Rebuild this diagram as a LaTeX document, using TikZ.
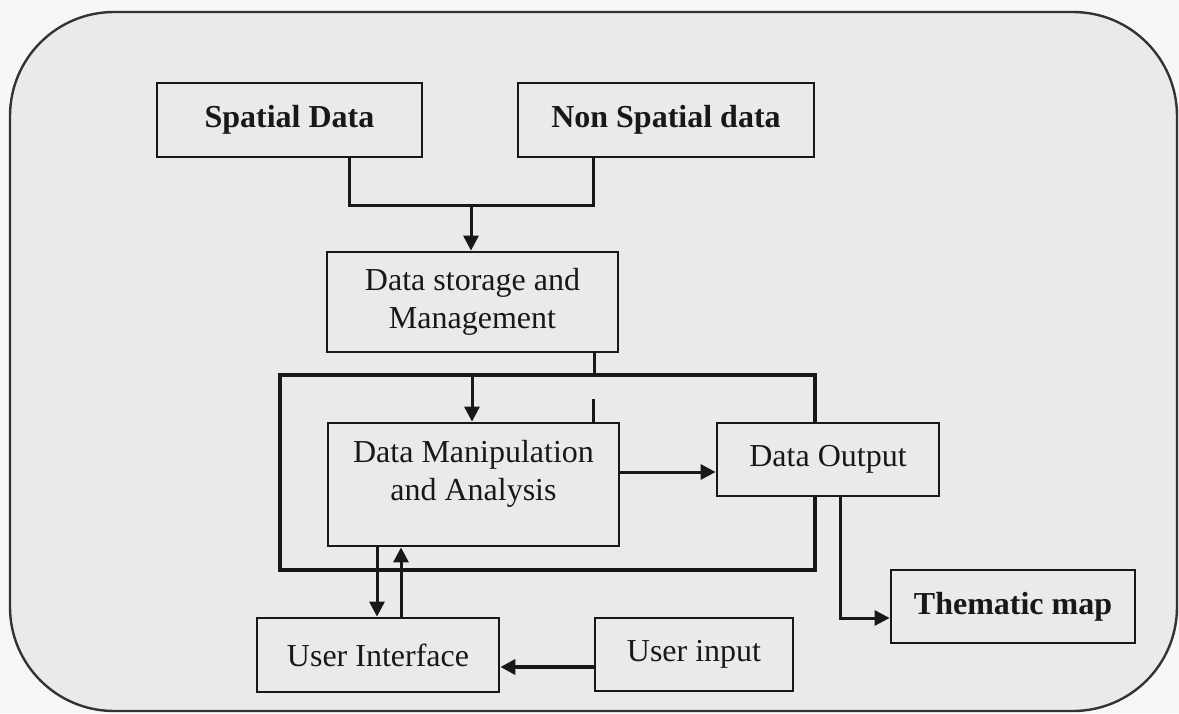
\documentclass[tikz,border=0pt]{standalone}
\usepackage{fontspec}
\setmainfont{Liberation Serif}
\usetikzlibrary{arrows.meta,calc}
\definecolor{paper}{HTML}{F7F7F7}
\definecolor{panel}{HTML}{EAEAEA}
\definecolor{ink}{HTML}{181818}
\definecolor{rim}{HTML}{333333}
\begin{document}
\begin{tikzpicture}[x=0.5pt,y=-0.5pt,
  box/.style={draw=ink,line width=1.4pt,fill=panel,rectangle,inner sep=0pt,
    font=\fontsize{16}{19}\selectfont,text=ink,align=center},
  boldtext/.style={font=\fontsize{16}{19}\selectfont\bfseries},
  plain/.style={font=\fontsize{16}{19}\selectfont,text=ink,align=center,inner sep=0pt},
  link/.style={draw=ink,line width=1.5pt},
  arr/.style={link,-{Triangle[length=7.5pt,width=7.5pt]}},
]
% page and rounded panel
\useasboundingbox (0,0) rectangle (1179,713);
\fill[paper] (0,0) rectangle (1179,713);
\draw[rim,line width=1.2pt,fill=panel,rounded corners=52pt] (10,12) rectangle (1177,711);

% processing frame
\node[draw=ink,line width=2.2pt,minimum width=267.5pt,minimum height=97.5pt,inner sep=0pt] (core) at (547.5,472.5) {};

% boxes
\node[box,boldtext,minimum width=132.5pt,minimum height=37pt] (sp) at (289.5,120) {Spatial Data};
\node[box,boldtext,minimum width=148pt,minimum height=37pt] (nsp) at (666,120) {Non Spatial data};
\node[box,minimum width=145.5pt,minimum height=50pt] (dsm) at (472.5,302) {Data storage and\\Management};
\node[box,minimum width=145.5pt,minimum height=61.5pt] (dma) at (473.5,484.5) {};
\node[plain] (dmat) at (473.5,474) {Data Manipulation\\and Analysis};
\node[box,minimum width=111pt,minimum height=36.5pt] (dout) at (828,459.5) {Data Output};
\node[box,boldtext,minimum width=122pt,minimum height=36.5pt] (thm) at (1013,606.5) {Thematic map};
\node[box,minimum width=121pt,minimum height=37pt] (ui) at (378,655) {User Interface};
\node[box,minimum width=99pt,minimum height=36.5pt] (uin) at (694,654.5) {User input};

% merge of the two data sources
\coordinate (ja) at (349,205);
\coordinate (jb) at (593,205);
\coordinate (jm) at (471,205);
\draw[link] (sp.south -| ja) -- (ja) -- (jb) -- (nsp.south -| jb);
\draw[arr] (jm) -- (jm |- dsm.north);

% storage into the processing frame
\coordinate (dd) at (594,375);
\draw[link] (dd |- dsm.south) -- (dd |- core.north);
\coordinate (st) at (593,399);
\draw[link] (st) -- (st |- dma.north);
\coordinate (ca) at (472,400);
\draw[arr] (ca |- core.north) -- (ca |- dma.north);

% analysis to output to map
\coordinate (ha) at (650,472);
\draw[arr] (dma.east |- ha) -- (dout.west |- ha);
\coordinate (tk) at (840,618);
\draw[arr] (tk |- dout.south) -- (tk) -- (thm.west |- tk);

% user side
\coordinate (da) at (377,590);
\coordinate (ub) at (401,590);
\draw[arr] (da |- dma.south) -- (da |- ui.north);
\draw[arr] (ub |- ui.north) -- (ub |- dma.south);
\coordinate (ia) at (550,667);
\draw[arr,line width=2.2pt] (uin.west |- ia) -- (ui.east |- ia);
\end{tikzpicture}
\end{document}
